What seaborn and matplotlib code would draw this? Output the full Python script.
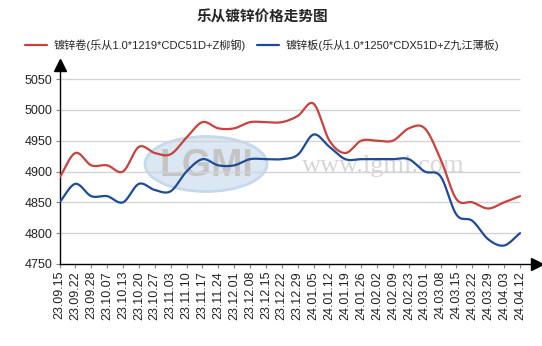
import numpy as np
import pandas as pd
import seaborn as sns
import matplotlib
matplotlib.use("Agg")
import matplotlib.pyplot as plt
from matplotlib.patches import Ellipse

dates = ["23.09.15", "23.09.22", "23.09.28", "23.10.07", "23.10.13", "23.10.20",
         "23.10.27", "23.11.03", "23.11.10", "23.11.17", "23.11.24", "23.12.01",
         "23.12.08", "23.12.15", "23.12.22", "23.12.29", "24.01.05", "24.01.12",
         "24.01.19", "24.01.26", "24.02.02", "24.02.09", "24.02.23", "24.03.01",
         "24.03.08", "24.03.15", "24.03.22", "24.03.29", "24.04.03", "24.04.12"]
coil = [4890, 4930, 4910, 4910, 4900, 4940, 4930, 4928, 4955, 4980,
        4970, 4970, 4980, 4980, 4980, 4990, 5010, 4950, 4930, 4950,
        4950, 4950, 4970, 4970, 4920, 4855, 4850, 4840, 4850, 4860]
sheet = [4850, 4880, 4860, 4860, 4850, 4880, 4870, 4868, 4900, 4920,
         4910, 4910, 4920, 4920, 4920, 4927, 4960, 4940, 4920, 4920,
         4920, 4920, 4920, 4900, 4892, 4830, 4820, 4790, 4780, 4800]
coil_name = "镀锌卷(乐从1.0*1219*CDC51D+Z柳钢)"
sheet_name = "镀锌板(乐从1.0*1250*CDX51D+Z九江薄板)"
title = "乐从镀锌价格走势图"
yticks = [4750, 4800, 4850, 4900, 4950, 5000, 5050]

RED = "#c9423c"
BLUE = "#1d4b9c"


def smooth(y, n=24):
    """Catmull-Rom curve through the read values (rendering only)."""
    y = np.asarray(y, float)
    p = np.concatenate([[2 * y[0] - y[1]], y, [2 * y[-1] - y[-2]]])
    xs, ys = [], []
    for i in range(len(y) - 1):
        p0, p1, p2, p3 = p[i], p[i + 1], p[i + 2], p[i + 3]
        t = np.linspace(0, 1, n, endpoint=False)
        v = 0.5 * ((2 * p1) + (-p0 + p2) * t + (2 * p0 - 5 * p1 + 4 * p2 - p3) * t ** 2
                   + (-p0 + 3 * p1 - 3 * p2 + p3) * t ** 3)
        xs.append(i + t)
        ys.append(v)
    xs.append([len(y) - 1])
    ys.append([y[-1]])
    return np.concatenate(xs), np.concatenate(ys)


sns.set_theme(style="white")
plt.rcParams["font.family"] = ["Liberation Sans", "Noto Sans CJK SC", "DejaVu Sans"]

W, H = 542, 346
fig = plt.figure(figsize=(W / 100, H / 100), dpi=100)
fig.patch.set_facecolor("white")

left_px, right_px, top_px, bot_px = 59.5, 537, 65, 264
ax = fig.add_axes([left_px / W, 1 - bot_px / H, (right_px - left_px) / W, (bot_px - top_px) / H])
ax.set_facecolor("none")
ax.set_zorder(2)

# watermark (behind the axes)
fig.patches.append(Ellipse((206 / W, 1 - 164 / H), 122 / W, 55 / H, transform=fig.transFigure,
                           facecolor="#dbe7f3", edgecolor="#c6d9ec", lw=2, zorder=-2))
fig.text(206 / W, 1 - 166 / H, "LGMI", ha="center", va="center",
         fontsize=27, fontweight="bold", color="#c4c4c4", zorder=-1, family="Liberation Sans")
fig.text(383 / W, 1 - 166 / H, "www.lgmi.com", ha="center", va="center", fontsize=19,
         color="#d6d6d6", family="Liberation Serif", zorder=-1)

x_last = len(dates) - 1
ax.set_xlim(0, x_last * (right_px - left_px) / (520 - left_px))
ax.set_ylim(4750, 4750 + (bot_px - top_px) * 300 / (264 - 79))

ax.hlines(yticks[1:], 0, x_last, colors="#d4d4d4", lw=1, zorder=1)

for vals, name, col in [(coil, coil_name, RED), (sheet, sheet_name, BLUE)]:
    xs, ys = smooth(vals)
    df = pd.DataFrame({"x": xs, "y": ys})
    sns.lineplot(data=df, x="x", y="y", ax=ax, color=col, lw=1.6, label=name, sort=False, zorder=3)

ax.set_xticks(range(len(dates)))
ax.set_xticklabels(dates, rotation=90, fontsize=9, color="#222222")
ax.set_yticks(yticks)
ax.set_yticklabels([str(v) for v in yticks], fontsize=9, color="#222222")
ax.set_xlabel("")
ax.set_ylabel("")
ax.tick_params(axis="both", which="both", length=3, width=0.8, color="#888888", pad=2,
               bottom=True, left=True)
for s in ["top", "right"]:
    ax.spines[s].set_visible(False)
for s in ["left", "bottom"]:
    ax.spines[s].set_color("black")
    ax.spines[s].set_linewidth(1)
ax.plot(1, 0, marker=">", color="black", ms=8, transform=ax.transAxes, clip_on=False)
ax.plot(0, 1, marker="^", color="black", ms=8, transform=ax.transAxes, clip_on=False)

handles, labels = ax.get_legend_handles_labels()
ax.get_legend().remove()
fig.legend(handles, labels, loc="center", bbox_to_anchor=(262 / W, 1 - 45 / H), ncol=2,
           frameon=False, fontsize=8, handlelength=2.0, columnspacing=1.0, handletextpad=0.6)

fig.text(262 / W, 1 - 17 / H, title, ha="center", va="center", fontsize=10.5, fontweight="bold",
         family=["Noto Sans CJK SC", "DejaVu Sans"])

fig.savefig("out.png", dpi=100)
